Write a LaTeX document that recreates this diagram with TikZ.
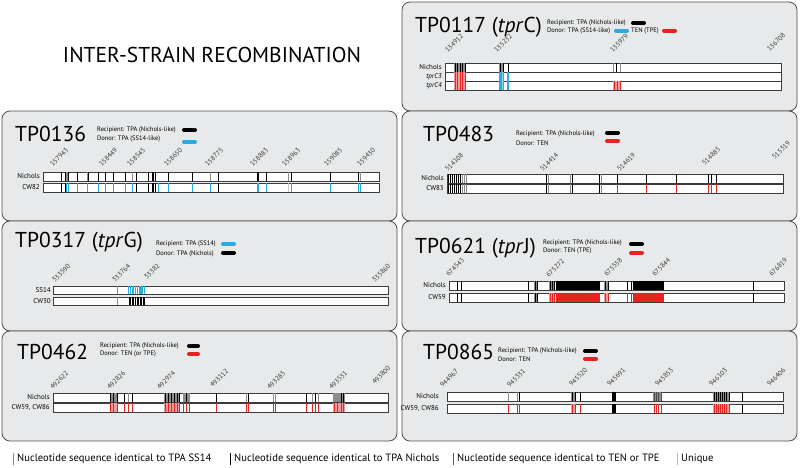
\documentclass[tikz,border=0pt]{standalone}
\usepackage{fontspec}
\setmainfont{PT Sans}
\definecolor{panelc}{HTML}{E8E9EA}
\definecolor{bordc}{HTML}{4D4D4D}
\definecolor{barc}{HTML}{3C3C3C}
\definecolor{bluec}{HTML}{29ABE2}
\definecolor{lbluec}{HTML}{8ED3F0}
\definecolor{redc}{HTML}{E52421}
\definecolor{lredc}{HTML}{F39A9C}
\definecolor{mgray}{HTML}{8C8C8C}
\definecolor{numc}{HTML}{3A3A3A}
\newcommand\mlines[4]{\foreach \xx in {#4}{\draw[mk,#1] (\xx,#2) -- (\xx,#3);}}
\newcommand\mblock[5]{\fill[#1] (#2,#4) rectangle (#3,#5);}
\begin{document}
\begin{tikzpicture}[x=1pt,y=-1pt,
  panel/.style={draw=bordc, fill=panelc, rounded corners=8pt, line width=0.8pt},
  bar/.style={draw=barc, fill=white, line width=0.5pt},
  mk/.style={line width=0.6pt},
  ttl/.style={font=\fontsize{21.5}{23}\selectfont, inner sep=0, anchor=base west},
  leg/.style={font=\fontsize{6.5}{8}\selectfont, inner sep=0, anchor=west},
  num/.style={font=\fontsize{6.9}{8}\selectfont, inner sep=0, rotate=45, anchor=south west, text=numc},
  rowl/.style={font=\fontsize{7}{8}\selectfont, inner sep=0, anchor=east},
  pill/.style={line width=4pt, line cap=round},
  keyl/.style={font=\fontsize{10.6}{12}\selectfont, inner sep=0, anchor=west},
  keyb/.style={line width=1pt}]
\useasboundingbox (0,0) rectangle (800,467);
\fill[white] (0,0) rectangle (800,467);

% ---------- panels ----------
\draw[panel] (402,2) rectangle (797,111);
\draw[panel] (2,111) rectangle (397,221);
\draw[panel] (402,111) rectangle (797,221);
\draw[panel] (2,221) rectangle (397,331);
\draw[panel] (402,221) rectangle (797,331);
\draw[panel] (2,331) rectangle (397,441);
\draw[panel] (402,331) rectangle (797,441);

\node[font=\fontsize{21.5}{23}\selectfont, inner sep=0] (maintitle) at (212,55) {INTER-STRAIN RECOMBINATION};

% ---------- TP0117 ----------
\node[ttl] (t0117) at (415,32) {TP0117 (\textit{tpr}C)};
\node[leg] at (547,23) {Recipient: TPA (Nichols-like)};
\draw[pill,black] (633,23) -- (644,23);
\node[leg] at (547,30.5) {Donor: TPA (SS14-like)};
\draw[pill,bluec] (616,30.5) -- (627,30.5);
\node[leg] at (631,30.5) {TEN (TPE)};
\draw[pill,redc] (664,30.5) -- (675,30.5);
\node[num] at (448,53) {134912};
\node[num] at (497,53) {135232};
\node[num] at (613,53) {135979};
\node[num] at (770,52) {136708};
\draw[bar] (445,63) rectangle (781,72);
\draw[bar] (445,72) rectangle (781,81);
\draw[bar] (445,81) rectangle (781,90);
\node[rowl] at (442,67.5) {Nichols};
\node[rowl] at (442,76.5) {\textit{tprC3}};
\node[rowl] at (442,85.5) {\textit{tprC4}};
\mblock{mgray}{454}{466}{63.3}{71.7}\mlines{black}{63.3}{71.7}{455,457.5,460,462.5,465}
\mblock{mgray}{499}{504}{63.3}{71.7}\mlines{black}{63.3}{71.7}{500,503}
\draw[black,line width=1pt] (508,63.3) -- (508,71.7);
\mlines{mgray}{63.3}{71.7}{613.5,620}\mlines{black}{63.3}{71.7}{616}
\mblock{lredc}{454}{466}{72.3}{80.7}\mlines{redc}{72.3}{80.7}{455,457.5,460,462.5,465}
\mblock{bluec}{499}{504}{72.3}{80.7}\mlines{lbluec}{72.3}{80.7}{502}
\draw[bluec,line width=1.2pt] (508,72.3) -- (508,80.7);
\mblock{lredc}{454}{466}{81.3}{89.7}\mlines{redc}{81.3}{89.7}{455,457.5,460,462.5,465}
\mblock{bluec}{499}{504}{81.3}{89.7}\mlines{lbluec}{81.3}{89.7}{502}
\draw[bluec,line width=1.2pt] (508,81.3) -- (508,89.7);
\mblock{lredc}{613}{621}{81.3}{89.7}\mlines{redc}{81.3}{89.7}{614,617,620}

% ---------- TP0136 ----------
\node[ttl] (t0136) at (15,141) {TP0136};
\node[leg] at (97,130) {Recipient: TPA (Nichols-like)};
\draw[pill,black] (184,130) -- (195,130);
\node[leg] at (97,139) {Donor: TPA (SS14-like)};
\draw[pill,bluec] (184,142) -- (195,142);
\node[num] at (53,167) {157943};
\node[num] at (102,167) {158449};
\node[num] at (130,167) {158545};
\node[num] at (167,167) {158650};
\node[num] at (208,167) {158775};
\node[num] at (253,167) {158883};
\node[num] at (285,167) {158963};
\node[num] at (327,167) {159085};
\node[num] at (360,167) {159430};
\draw[bar] (43,172) rectangle (379,181);
\draw[bar] (43,183) rectangle (379,192);
\node[rowl] at (40,176.5) {Nichols};
\node[rowl] at (40,187.5) {CW82};
\mblock{mgray}{65}{68}{172.3}{180.7}
\mlines{black}{172.3}{180.7}{61.7,65,68,77.3,88.3,98.3,105,113.3,125,136.7,148.3,152,153.5,155,168.3,192.7,218.3,257,258.3,266,291.7,330,358.5}
\mlines{mgray}{172.3}{180.7}{87.3,132.7,210,288.3,360}
\mlines{black}{183.3}{191.7}{61.7,65,136.7,148.3,152,153.5,155,218.3}
\mlines{bluec}{183.3}{191.7}{66.5,68,77.3,87.3,98.3,105,113.3,125,132.7,158.3,168.3,192.7,210,257,258.3,266,291.7,330,358.5,360}
\mlines{mgray!50}{183.3}{191.7}{288.3}

% ---------- TP0483 ----------
\node[ttl] (t0483) at (423,141) {TP0483};
\node[leg] at (516,134) {Recipient: TPA (Nichols-like)};
\draw[pill,black] (607,133) -- (618,133);
\node[leg] at (516,143) {Donor: TEN};
\draw[pill,redc] (607,141) -- (618,141);
\node[num] at (448,172) {514108};
\node[num] at (543,172) {514414};
\node[num] at (620,172) {514619};
\node[num] at (705,166) {514885};
\node[num] at (775,160) {515319};
\draw[bar] (447,174) rectangle (783,183);
\draw[bar] (447,184) rectangle (783,193);
\node[rowl] at (444,178.5) {Nichols};
\node[rowl] at (444,188.5) {CW83};
\foreach \ya/\yb in {174.3/182.7, 184.3/192.7}{
  \mlines{black}{\ya}{\yb}{448.5,450.5,452.5,454.5,456.5,458.5,460.5,546,572,599}
  \mlines{mgray}{\ya}{\yb}{462.5,464.5,466.5,548,570,601.5}
}
\mlines{black}{174.3}{182.7}{617,646,676,708,711.5,716}
\mlines{redc}{184.3}{192.7}{617,646,676,708,711.5,716}

% ---------- TP0317 ----------
\node[ttl] (t0317) at (15,247) {TP0317 (\textit{tpr}G)};
\node[leg] at (156,244) {Recipient: TPA (SS14)};
\draw[pill,bluec] (223,244) -- (234,244);
\node[leg] at (156,254) {Donor: TPA (Nichols)};
\draw[pill,black] (223,253) -- (234,253);
\node[num] at (55,283) {333590};
\node[num] at (115,283) {333764};
\node[num] at (147,280) {33382};
\node[num] at (375,283) {335860};
\draw[bar] (53,286) rectangle (388,294);
\draw[bar] (53,297) rectangle (388,305);
\node[rowl] at (51,290) {SS14};
\node[rowl] at (51,301) {CW30};
\mlines{bluec}{286.3}{293.7}{117}
\foreach \xx in {128.5,130.5,133,135.5,137.5,140,142,144.5}{\draw[bluec,line width=1.1pt] (\xx,286.3) -- (\xx,293.7);}
\mlines{mgray}{297.3}{304.7}{117}
\mlines{black}{297.3}{304.7}{129,130.5,132,133.5,135,137,138.5,140,141.5,143,144.5}

% ---------- TP0621 ----------
\node[ttl] (t0621) at (415,253) {TP0621 (\textit{tpr}J)};
\node[leg] at (543,243) {Recipient: TPA (Nichols-like)};
\draw[pill,black] (631,244) -- (642,244);
\node[leg] at (543,251) {Donor: TEN (TPE)};
\draw[pill,redc] (631,253) -- (642,253);
\node[num] at (449,277) {674543};
\node[num] at (549,278) {675272};
\node[num] at (607,277) {675558};
\node[num] at (655,277) {675844};
\node[num] at (772,277) {676819};
\draw[bar] (449,281) rectangle (784,290);
\draw[bar] (449,293) rectangle (784,302);
\node[rowl] at (446,285.5) {Nichols};
\node[rowl] at (446,297.5) {CW59};
% Nichols
\mlines{black}{281.3}{289.7}{457,461,528,753}
\mblock{mgray}{534}{538}{281.3}{289.7}\mlines{black}{281.3}{289.7}{535.5,537}
\mblock{mgray}{549}{555}{281.3}{289.7}\mlines{black}{281.3}{289.7}{550,552,554}
\mblock{black}{556}{600}{281.3}{289.7}
\mblock{mgray}{604}{609}{281.3}{289.7}\mlines{black}{281.3}{289.7}{605,608}
\mlines{black}{281.3}{289.7}{627,631}
\mblock{black}{633}{664}{281.3}{289.7}
% CW59
\mlines{black}{293.3}{301.7}{457,461,528,753}
\mblock{mgray}{534}{538}{293.3}{301.7}\mlines{black}{293.3}{301.7}{535.5,537}
\mblock{lredc}{549}{555}{293.3}{301.7}\mlines{redc}{293.3}{301.7}{550,552,554}
\mblock{redc}{556}{600}{293.3}{301.7}
\mblock{lredc}{604}{609}{293.3}{301.7}\mlines{redc}{293.3}{301.7}{605,608}
\mlines{redc}{293.3}{301.7}{627,631}
\mblock{redc}{633}{664}{293.3}{301.7}

% ---------- TP0462 ----------
\node[ttl] (t0462) at (17,359) {TP0462};
\node[leg] at (100,346) {Recipient: TPA (Nichols-like)};
\draw[pill,black] (189,346) -- (198,346);
\node[leg] at (100,354) {Donor: TEN (or TPE)};
\draw[pill,redc] (189,354) -- (198,354);
\node[num] at (53,390) {492622};
\node[num] at (110,390) {492826};
\node[num] at (160,390) {492974};
\node[num] at (213,388) {493112};
\node[num] at (270,390) {493285};
\node[num] at (332,390) {493531};
\node[num] at (375,385) {493800};
\draw[bar] (53,393) rectangle (388,402);
\draw[bar] (53,403) rectangle (388,412);
\node[rowl] at (50,397.5) {Nichols};
\node[rowl] at (50,407.5) {CW59, CW86};
% Nichols
\mblock{mgray}{110}{118}{393.3}{401.7}
\mblock{mgray}{164}{180}{393.3}{401.7}
\mblock{mgray}{183}{190}{393.3}{401.7}
\mblock{mgray}{333}{345}{393.3}{401.7}
\mlines{black}{393.3}{401.7}{110.5,113.5,117,124,132,165,168,171,174,177,179.5,186,216,248.5,306,315,341,343}
\mlines{mgray}{393.3}{401.7}{128,246,273,275,312.5,318.5}
% CW
\mblock{lredc}{110}{118}{403.3}{411.7}
\mblock{lredc}{164}{180}{403.3}{411.7}
\mblock{lredc}{333}{345}{403.3}{411.7}
\mlines{redc}{403.3}{411.7}{110.5,113.5,117,124,128,132,165,168,171,174,177,179.5,183.5,186,189.5,216,246,248.5,273,275,306,312.5,315,318.5,334,337,341,343}

% ---------- TP0865 ----------
\node[ttl] (t0865) at (423,359) {TP0865};
\node[leg] at (498,351) {Recipient: TPA (Nichols-like)};
\draw[pill,black] (585,351) -- (596,351);
\node[leg] at (498,359) {Donor: TEN};
\draw[pill,redc] (585,359) -- (596,359);
\node[num] at (443,388) {944967};
\node[num] at (510,388) {945331};
\node[num] at (572,387) {945520};
\node[num] at (610,387) {945691};
\node[num] at (658,387) {945853};
\node[num] at (712,387) {946103};
\node[num] at (770,387) {946406};
\draw[bar] (447,392) rectangle (783,401);
\draw[bar] (447,404) rectangle (783,413);
\node[rowl] at (439,396.5) {Nichols};
\node[rowl] at (439,408.5) {CW59, CW86};
% Nichols
\mlines{mgray}{392.3}{400.7}{508,517}
\mlines{black}{392.3}{400.7}{519,580,742}
\mblock{mgray}{571}{576}{392.3}{400.7}\mlines{black}{392.3}{400.7}{572,575}
\mblock{black}{612}{616}{392.3}{400.7}
\mblock{mgray}{653}{662}{392.3}{400.7}\mlines{black!70}{392.3}{400.7}{654,656,658,661}
\mblock{mgray}{713}{730}{392.3}{400.7}\mlines{black}{392.3}{400.7}{714,716,718,720,722,724,726,729}
% CW
\mlines{redc}{404.3}{412.7}{508,517,519,580,654,656,658,661}
\mlines{black}{404.3}{412.7}{742}
\mblock{lredc}{571}{576}{404.3}{412.7}\mlines{redc}{404.3}{412.7}{572,575}
\mblock{black}{612}{616}{404.3}{412.7}
\mblock{lredc}{713}{730}{404.3}{412.7}\mlines{redc}{404.3}{412.7}{714,716,718,720,722,724,726,729}

% ---------- key ----------
\draw[keyb,bluec] (13,453) -- (13,465);
\node[keyl] (k1) at (17,459) {Nucleotide sequence identical to TPA SS14};
\draw[keyb,black] (230,453) -- (230,465);
\node[keyl] (k2) at (234,459) {Nucleotide sequence identical to TPA Nichols};
\draw[keyb,redc] (453,453) -- (453,465);
\node[keyl] (k3) at (457,459) {Nucleotide sequence identical to TEN or TPE};
\draw[keyb,mgray!60] (677,453) -- (677,465);
\node[keyl] (k4) at (681,459) {Unique};
\end{tikzpicture}
\end{document}
